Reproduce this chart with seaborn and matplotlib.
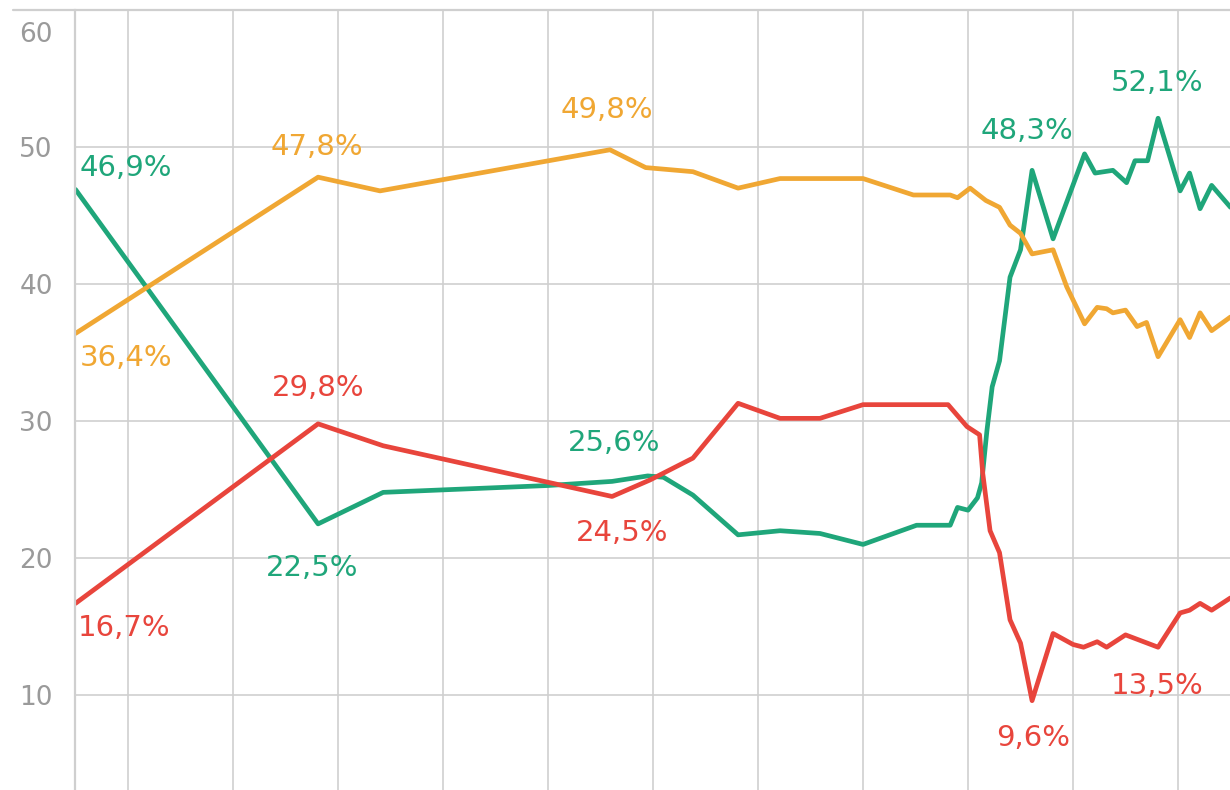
import numpy as np
import pandas as pd
import matplotlib
matplotlib.use('Agg')
import matplotlib.pyplot as plt
import seaborn as sns

# Poll series (x = position between vertical gridlines, y = percent)
green_x = [0.50, 2.81, 3.43, 5.00, 5.61, 5.95, 6.10, 6.38, 6.81, 7.21, 7.59, 8.00, 8.51,
           8.83, 8.90, 9.00, 9.09, 9.13, 9.18, 9.23, 9.30, 9.40, 9.50, 9.61, 9.81, 10.11,
           10.21, 10.38, 10.51, 10.59, 10.71, 10.81, 11.02, 11.11, 11.21, 11.32, 11.50]
green_y = [46.9, 22.5, 24.8, 25.3, 25.6, 26.0, 25.9, 24.6, 21.7, 22.0, 21.8, 21.0, 22.4,
           22.4, 23.7, 23.5, 24.4, 25.5, 29.3, 32.5, 34.4, 40.5, 42.5, 48.3, 43.3, 49.5,
           48.1, 48.3, 47.4, 49.0, 49.0, 52.1, 46.8, 48.1, 45.5, 47.2, 45.6]

orange_x = [0.50, 2.81, 3.40, 5.59, 5.93, 6.38, 6.81, 7.21, 8.00, 8.48, 8.83, 8.90, 9.02,
            9.17, 9.30, 9.40, 9.50, 9.61, 9.81, 9.94, 10.11, 10.23, 10.32, 10.38, 10.50,
            10.61, 10.70, 10.81, 11.02, 11.11, 11.21, 11.32, 11.50]
orange_y = [36.4, 47.8, 46.8, 49.8, 48.5, 48.2, 47.0, 47.7, 47.7, 46.5, 46.5, 46.3, 47.0,
            46.1, 45.6, 44.3, 43.7, 42.2, 42.5, 39.8, 37.1, 38.3, 38.2, 37.9, 38.1,
            36.9, 37.2, 34.7, 37.4, 36.1, 37.9, 36.6, 37.6]

red_x = [0.50, 2.81, 3.43, 5.61, 5.97, 6.38, 6.81, 7.21, 7.59, 8.00, 8.81, 8.99, 9.11,
         9.14, 9.21, 9.30, 9.40, 9.50, 9.61, 9.81, 10.00, 10.10, 10.23, 10.32, 10.50,
         10.81, 11.02, 11.11, 11.21, 11.32, 11.50]
red_y = [16.7, 29.8, 28.2, 24.5, 25.7, 27.3, 31.3, 30.2, 30.2, 31.2, 31.2, 29.6, 29.0,
         26.2, 22.0, 20.4, 15.5, 13.8, 9.6, 14.5, 13.7, 13.5, 13.9, 13.5, 14.4,
         13.5, 16.0, 16.2, 16.7, 16.2, 17.1]

# Value annotations: (text, x, y, series, alignment)
labels = [
    ('46,9%', 0.54, 48.5, 'green', 'left'),
    ('36,4%', 0.54, 34.6, 'orange', 'left'),
    ('16,7%', 0.52, 14.9, 'red', 'left'),
    ('47,8%', 2.80, 50.0, 'orange', 'center'),
    ('29,8%', 2.81, 32.4, 'red', 'center'),
    ('22,5%', 2.75, 19.3, 'green', 'center'),
    ('49,8%', 5.56, 52.7, 'orange', 'center'),
    ('25,6%', 5.63, 28.4, 'green', 'center'),
    ('24,5%', 5.71, 21.8, 'red', 'center'),
    ('48,3%', 9.56, 51.2, 'green', 'center'),
    ('52,1%', 10.80, 54.7, 'green', 'center'),
    ('9,6%', 9.62, 6.9, 'red', 'center'),
    ('13,5%', 10.80, 10.7, 'red', 'center'),
]

colors = {'green': '#1fa67a', 'orange': '#f0a733', 'red': '#e8453c'}
grid_color = '#cfcfcf'

df = pd.concat([
    pd.DataFrame({'x': green_x, 'y': green_y, 'series': 'green'}),
    pd.DataFrame({'x': orange_x, 'y': orange_y, 'series': 'orange'}),
    pd.DataFrame({'x': red_x, 'y': red_y, 'series': 'red'}),
])

sns.set_theme(style='white')
plt.rcParams['font.family'] = ['DejaVu Sans']

fig = plt.figure(figsize=(12.3, 7.9), dpi=100)
# top edge of the axes = the 60 rule, about 10 px under the top of the image
ax = fig.add_axes([75 / 1230, 0, 1155 / 1230, 780 / 790])

# grid first so lines sit on top
ax.set_xticks(range(1, 12))
ax.set_yticks([10, 20, 30, 40, 50])
ax.grid(True, color=grid_color, linewidth=1.2)
ax.set_axisbelow(True)
ax.axhline(60, xmin=-0.054, xmax=1, color=grid_color, linewidth=1.6, clip_on=False)

sns.lineplot(data=df, x='x', y='y', hue='series', palette=colors, estimator=None,
             sort=False, linewidth=3.4, legend=False, ax=ax)

for text, x, y, s, ha in labels:
    ax.text(x, y, text, color=colors[s], fontsize=21, ha=ha, va='center')

ax.set_xlim(0.495, 11.495)
ax.set_ylim(3.08, 60)
ax.set_xlabel('')
ax.set_ylabel('')
ax.set_xticklabels([])
ax.tick_params(axis='y', length=0, pad=16, labelsize=19, labelcolor='#9a9a9a')
ax.tick_params(axis='x', length=0)

# top tick label sits below the top rule in the original
ax.text(-0.019, 58.15, '60', transform=ax.get_yaxis_transform(), ha='right', va='center',
        fontsize=19, color='#9a9a9a')

for side in ['top', 'right', 'bottom']:
    ax.spines[side].set_visible(False)
ax.spines['left'].set_color(grid_color)
ax.spines['left'].set_linewidth(1.6)

fig.savefig('out.png', dpi=100)
